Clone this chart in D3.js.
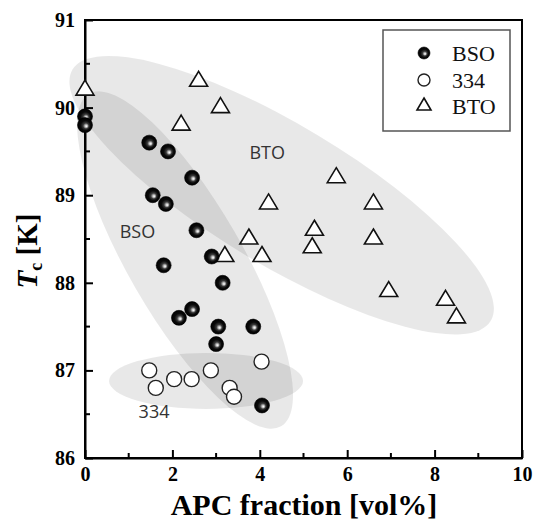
<!DOCTYPE html>
<html>
<head>
<meta charset="utf-8">
<script src="https://cdn.jsdelivr.net/npm/d3@7"></script>
<style>
  html, body { margin: 0; padding: 0; background: #fff; }
  svg { display: block; }
</style>
</head>
<body>
<svg id="chart" width="534" height="524"></svg>
<script>
// APC fraction (vol%) vs. Tc (K) for the three sample series
const bsoX = [0, 0, 1.47, 1.9, 2.45, 1.55, 1.85, 2.55, 1.8, 2.9, 3.15, 2.15, 2.45, 3.05, 3.85, 3.0, 4.05];
const bsoY = [89.9, 89.8, 89.6, 89.5, 89.2, 89.0, 88.9, 88.6, 88.2, 88.3, 88.0, 87.6, 87.7, 87.5, 87.5, 87.3, 86.6];

const s334X = [1.47, 1.62, 2.04, 2.44, 2.88, 3.31, 3.41, 4.04];
const s334Y = [87.0, 86.8, 86.9, 86.9, 87.0, 86.8, 86.7, 87.1];

const btoX = [0, 2.6, 3.1, 2.2, 5.75, 4.2, 6.6, 3.75, 5.25, 6.6, 5.2, 3.2, 4.05, 6.95, 8.25, 8.5];
const btoY = [90.2, 90.3, 90.0, 89.8, 89.2, 88.9, 88.9, 88.5, 88.6, 88.5, 88.4, 88.3, 88.3, 87.9, 87.8, 87.6];

const xTicks = [0, 2, 4, 6, 8, 10];
const yTicks = [86, 87, 88, 89, 90, 91];
const legendNames = ["BSO", "334", "BTO"];

// shaded grouping regions: centre in data units
const regionNames = ["BTO", "BSO", "334"];
const regionCX = [4.5, 2.29, 2.77];
const regionCY = [89.0, 88.26, 86.88];
// region label anchor in data units
const regionLabelX = [4.17, 1.2, 1.58];
const regionLabelY = [89.41, 88.51, 86.46];

// ---- layout / style ----
const svg = d3.select("#chart");
const plotL = 85, plotR = 522, plotT = 20, plotB = 458;
const x = d3.scaleLinear().domain([0, 10]).range([plotL, plotR]);
const y = d3.scaleLinear().domain([86, 91]).range([plotB, plotT]);

const regionShape = [
  { rx: 244, ry: 70, angle: 31 },
  { rx: 192, ry: 57, angle: 60 },
  { rx: 97, ry: 28, angle: 0 }
];

const defs = svg.append("defs");
const grad = defs.append("radialGradient")
  .attr("id", "ball").attr("cx", "50%").attr("cy", "50%").attr("r", "50%")
  .attr("fx", "60%").attr("fy", "58%");
grad.append("stop").attr("offset", "0%").attr("stop-color", "#ffffff");
grad.append("stop").attr("offset", "14%").attr("stop-color", "#d0d0d0");
grad.append("stop").attr("offset", "38%").attr("stop-color", "#3a3a3a");
grad.append("stop").attr("offset", "65%").attr("stop-color", "#0a0a0a");
grad.append("stop").attr("offset", "100%").attr("stop-color", "#000000");

// shaded ellipses
const regG = svg.append("g");
regionNames.forEach((name, i) => {
  const s = regionShape[i];
  regG.append("ellipse")
    .attr("transform", `translate(${x(regionCX[i])},${y(regionCY[i])}) rotate(${s.angle})`)
    .attr("rx", s.rx).attr("ry", s.ry)
    .attr("fill", "#000").attr("fill-opacity", 0.09);
  regG.append("text")
    .attr("x", x(regionLabelX[i])).attr("y", y(regionLabelY[i]))
    .attr("text-anchor", "middle")
    .attr("font-family", "'Open Sans', sans-serif")
    .attr("font-size", 18).attr("fill", "#333")
    .text(name);
});

// frame
svg.append("rect")
  .attr("x", plotL).attr("y", plotT).attr("width", plotR - plotL).attr("height", plotB - plotT)
  .attr("fill", "none").attr("stroke", "#000").attr("stroke-width", 2);

// axes with inward ticks
const minorX = d3.range(1, 10, 2);
const minorY = d3.range(86.5, 91, 1);

const xAxis = svg.append("g").attr("transform", `translate(0,${plotB})`)
  .call(d3.axisBottom(x).tickValues(xTicks).tickSizeInner(-8).tickSizeOuter(0).tickPadding(9)
    .tickFormat(d3.format("d")));
xAxis.append("g").selectAll("line").data(minorX).join("line")
  .attr("x1", d => x(d)).attr("x2", d => x(d)).attr("y1", 0).attr("y2", -5)
  .attr("stroke", "#000").attr("stroke-width", 2);

const yAxis = svg.append("g").attr("transform", `translate(${plotL},0)`)
  .call(d3.axisLeft(y).tickValues(yTicks).tickSizeInner(-8).tickSizeOuter(0).tickPadding(10)
    .tickFormat(d3.format("d")));
yAxis.append("g").selectAll("line").data(minorY).join("line")
  .attr("y1", d => y(d)).attr("y2", d => y(d)).attr("x1", 0).attr("x2", 5)
  .attr("stroke", "#000").attr("stroke-width", 2);

[xAxis, yAxis].forEach(a => {
  a.select(".domain").attr("stroke-width", 2);
  a.selectAll(".tick line").attr("stroke-width", 2);
  a.selectAll(".tick text")
    .attr("font-family", "'Liberation Serif', 'Times New Roman', serif")
    .attr("font-weight", "bold").attr("font-size", 20).attr("fill", "#000");
});

// axis titles
svg.append("text")
  .attr("x", 304).attr("y", 515)
  .attr("text-anchor", "middle")
  .attr("font-family", "'Liberation Serif', 'Times New Roman', serif")
  .attr("font-weight", "bold").attr("font-size", 30)
  .text("APC fraction [vol%]");

const yt = svg.append("text")
  .attr("transform", "translate(37,251) rotate(-90)")
  .attr("text-anchor", "middle")
  .attr("font-family", "'Liberation Serif', 'Times New Roman', serif")
  .attr("font-weight", "bold").attr("font-size", 29);
yt.append("tspan").attr("font-style", "italic").text("T");
yt.append("tspan").attr("font-size", 18).attr("dy", 5).text("c");
yt.append("tspan").attr("dy", -5).text(" [K]");

// marker drawers
function triPath(w, h) {
  return `M0,${-h * 2 / 3}L${w / 2},${h / 3}L${-w / 2},${h / 3}Z`;
}
function drawBall(g, cx, cy, r) {
  g.append("circle").attr("cx", cx).attr("cy", cy).attr("r", r)
    .attr("fill", "url(#ball)").attr("stroke", "#000").attr("stroke-width", 0.6);
}
function drawOpen(g, cx, cy, r) {
  g.append("circle").attr("cx", cx).attr("cy", cy).attr("r", r)
    .attr("fill", "#fff").attr("stroke", "#222").attr("stroke-width", 1.4);
}
function drawTri(g, cx, cy, w, h) {
  g.append("path").attr("d", triPath(w, h))
    .attr("transform", `translate(${cx},${cy})`)
    .attr("fill", "#fff").attr("stroke", "#111").attr("stroke-width", 1.6)
    .attr("stroke-linejoin", "miter");
}

const pts = svg.append("g");
btoX.forEach((v, i) => drawTri(pts, x(v), y(btoY[i]), 18, 15));
s334X.forEach((v, i) => drawOpen(pts, x(v), y(s334Y[i]), 7.5));
bsoX.forEach((v, i) => drawBall(pts, x(v), y(bsoY[i]), 7.5));

// legend
const lg = svg.append("g");
lg.append("rect").attr("x", 383).attr("y", 30).attr("width", 127).attr("height", 101)
  .attr("fill", "#fff").attr("stroke", "#555").attr("stroke-width", 1.5);
const legendRows = [53, 80, 106];
legendNames.forEach((name, i) => {
  const cy = legendRows[i];
  if (i === 0) drawBall(lg, 424, cy, 6);
  else if (i === 1) drawOpen(lg, 424, cy, 6);
  else drawTri(lg, 424, cy, 14, 12);
  lg.append("text").attr("x", 452).attr("y", cy + 8)
    .attr("font-family", "'Liberation Serif', 'Times New Roman', serif")
    .attr("font-size", 22).attr("fill", "#111").text(name);
});
</script>
</body>
</html>
